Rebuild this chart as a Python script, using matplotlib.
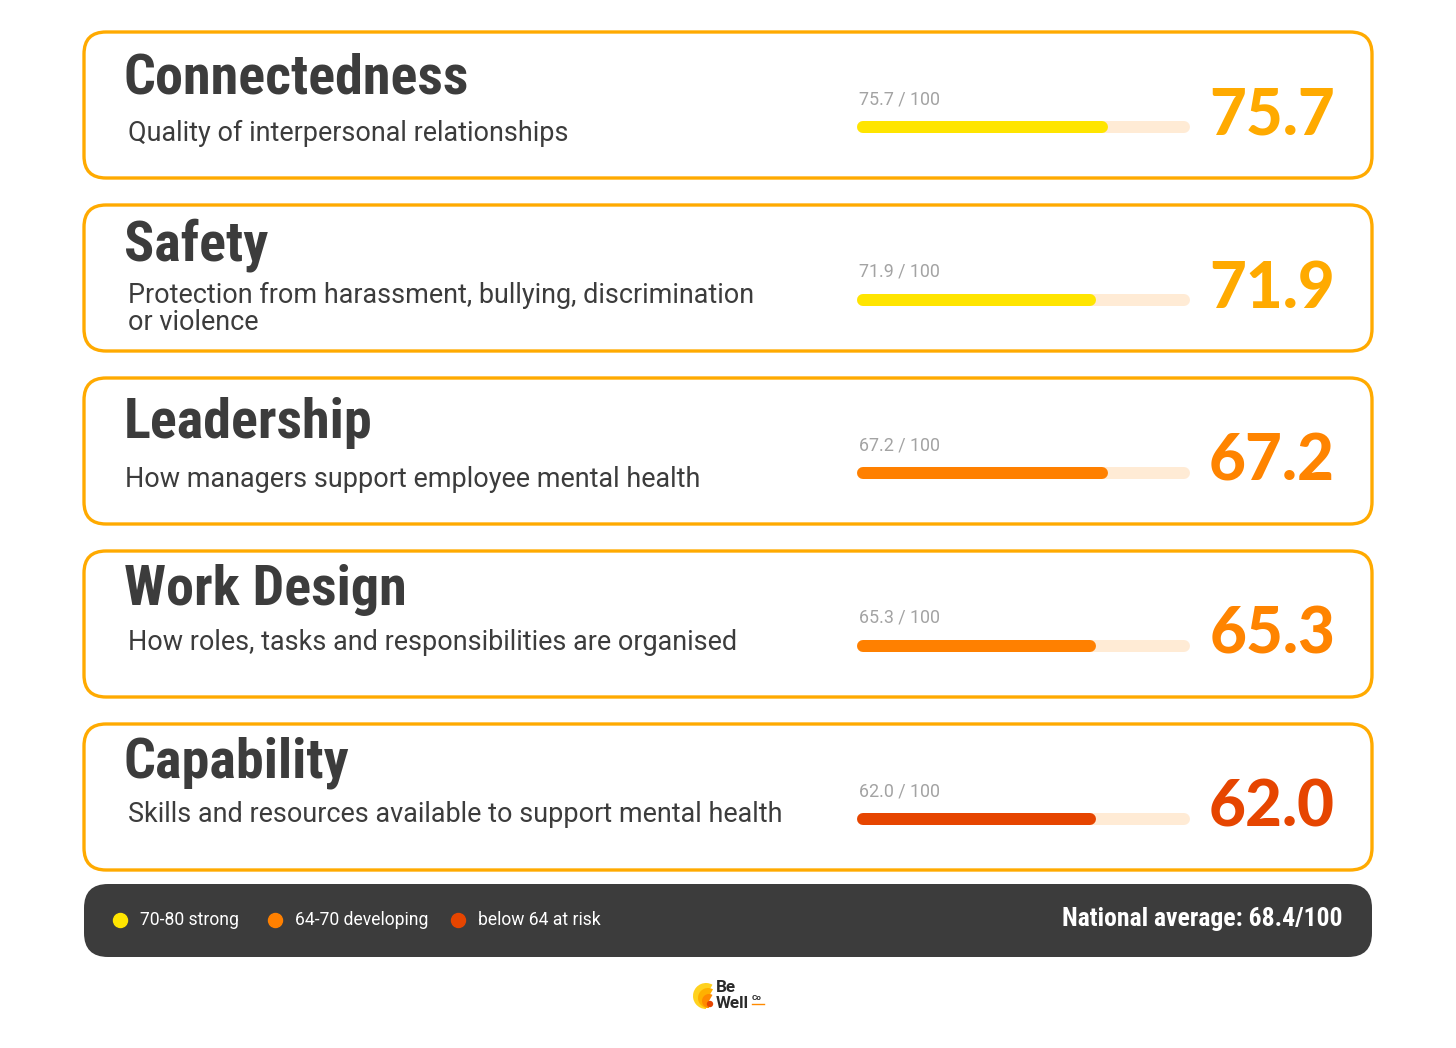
import matplotlib
matplotlib.use("Agg")
import matplotlib.pyplot as plt
from matplotlib import font_manager
from matplotlib.font_manager import FontProperties
from matplotlib.patches import FancyBboxPatch, Circle, Wedge

# data
categories = ["Connectedness", "Safety", "Leadership", "Work Design", "Capability"]
descriptions = [
    "Quality of interpersonal relationships",
    "Protection from harassment, bullying, discrimination\nor violence",
    "How managers support employee mental health",
    "How roles, tasks and responsibilities are organised",
    "Skills and resources available to support mental health",
]
scores = [75.7, 71.9, 67.2, 65.3, 62.0]
# fill length of each bar as drawn in the picture (percent of track)
bar_fill = [75.4, 71.8, 75.4, 71.8, 71.8]
bands = ["strong", "strong", "developing", "developing", "risk"]
legend_labels = ["70-80 strong", "64-70 developing", "below 64 at risk"]
legend_bands = ["strong", "developing", "risk"]
national_avg = 68.4

# colours
bar_col = {"strong": "#FFE500", "developing": "#FF8000", "risk": "#E64500"}
num_col = {"strong": "#FFAA00", "developing": "#FF8400", "risk": "#E64500"}
BORDER = "#FFAA00"
DARK = "#3C3C3C"
TRACK = "#FFEBD5"


def pick_font(keys, fallback_weight="bold"):
    """first installed font file whose name contains one of keys"""
    files = [f.fname for f in font_manager.fontManager.ttflist]
    for k in keys:
        for fn in files:
            if k.lower() in fn.lower().replace(" ", "").replace("_", ""):
                return FontProperties(fname=fn)
    return FontProperties(family="DejaVu Sans", weight=fallback_weight)


heavy_cond = pick_font(["RobotoCondensed-Black", "RobotoCondensed-ExtraBold",
                        "RobotoCondensed-Bold", "OpenSansCondensed-ExtraBold",
                        "OpenSansCondensed-Bold", "LiberationSansNarrow-Bold.",
                        "DejaVuSansCondensed-Bold.", "Lato-Black", "Roboto-Black"])
num_font = pick_font(["RobotoCondensed-Black", "RobotoCondensed-ExtraBold",
                      "Lato-Black", "Roboto-Black", "RobotoCondensed-Bold",
                      "Inter-Black"])
body_font = FontProperties(family=["Roboto", "DejaVu Sans"])
body_bold = FontProperties(family=["Roboto", "DejaVu Sans"], weight="bold")

W, H = 1456, 1048
fig = plt.figure(figsize=(W / 100, H / 100), dpi=100)
ax = fig.add_axes([0, 0, 1, 1])
ax.set_xlim(0, W)
ax.set_ylim(H, 0)
ax.axis("off")
renderer = fig.canvas.get_renderer()


def px(p):
    # pixels -> points
    return p * 0.72


def fit(t, width):
    # scale font so that text t is width pixels wide
    w = t.get_window_extent(renderer).width
    t.set_fontsize(t.get_fontsize() * width / w)
    return t.get_fontsize()


# reference sizes from the first card
probe = ax.text(0, 0, categories[0], fontproperties=heavy_cond, fontsize=px(50))
title_size = fit(probe, 346)
probe.remove()
probe = ax.text(0, 0, descriptions[0], fontproperties=body_font, fontsize=px(26))
sub_size = fit(probe, 439)
probe.remove()
probe = ax.text(0, 0, f"{scores[0]:.1f}", fontproperties=num_font, fontsize=px(70))
num_size = fit(probe, 126)
probe.remove()
probe = ax.text(0, 0, f"{scores[0]:.1f} / 100", fontproperties=body_font, fontsize=px(20))
lab_size = fit(probe, 81)
probe.remove()

card_top0, pitch, card_h = 32, 173, 146
title_off = [46, 40, 45, 39, 39]
sub_off = [109, 98, 109, 99, 98]
sub_x = [128, 128, 125, 128, 128]

for i, name in enumerate(categories):
    top = card_top0 + i * pitch
    ax.add_patch(FancyBboxPatch((84, top), 1288, card_h,
                                boxstyle="round,pad=0,rounding_size=22",
                                fc="white", ec=BORDER, lw=2.4))
    ax.text(124, top + title_off[i], name, fontproperties=heavy_cond,
            fontsize=title_size, color=DARK, va="center", ha="left")
    for j, line in enumerate(descriptions[i].split("\n")):
        ax.text(sub_x[i], top + sub_off[i] + j * 27, line, fontproperties=body_font,
                fontsize=sub_size, color=DARK, va="baseline", ha="left")

    # small score label
    ax.text(859, top + 67, f"{scores[i]:.1f} / 100", fontproperties=body_font,
            fontsize=lab_size, color="#A3A3A3", va="center", ha="left")

    # big score
    ax.text(1335, top + 84, f"{scores[i]:.1f}", fontproperties=num_font,
            fontsize=num_size, color=num_col[bands[i]], va="center", ha="right")

    # progress bar in its own 0-100 axes
    bx = fig.add_axes([857 / W, 1 - (top + 95 + 6) / H, 333 / W, 12 / H])
    bx.set_xlim(0, 100)
    bx.set_ylim(0, 1)
    bx.axis("off")
    r = 6 / 333 * 100
    bx.plot([r, 100 - r], [0.5, 0.5], color=TRACK, lw=px(12),
            solid_capstyle="round")
    bx.plot([r, bar_fill[i] - r], [0.5, 0.5], color=bar_col[bands[i]],
            lw=px(12), solid_capstyle="round")

# legend strip
ax.add_patch(FancyBboxPatch((84, 884), 1288, 73,
                            boxstyle="round,pad=0,rounding_size=24",
                            fc=DARK, ec="none"))
dot_x = [120, 275, 458]
for x, lab, b in zip(dot_x, legend_labels, legend_bands):
    ax.scatter([x], [920], s=px(14) ** 2, color=bar_col[b], zorder=5)
    t = ax.text(x + 20, 920, lab, fontproperties=body_font, fontsize=px(18),
                color="white", va="center", ha="left")
    if x == dot_x[0]:
        leg_size = fit(t, 99)
    else:
        t.set_fontsize(leg_size)
t = ax.text(1342, 919, f"National average: {national_avg}/100",
            fontproperties=heavy_cond, fontsize=px(22), color="white",
            va="center", ha="right")
fit(t, 281)

# little logo
ax.add_patch(Wedge((706, 996), 13, 90, 300, fc="#FFD21F", ec="none"))
ax.add_patch(Wedge((708, 998), 10, 90, 300, fc="#FFB000", ec="none"))
ax.add_patch(Wedge((709, 1001), 7, 90, 300, fc="#FF8A00", ec="none"))
ax.add_patch(Circle((710, 1004), 3.2, fc="#E64500", ec="none"))
ax.text(716, 988, "Be", fontproperties=body_bold, fontsize=px(17),
        color="#2A2A2A", va="center", ha="left")
ax.text(716, 1003, "Well", fontproperties=body_bold, fontsize=px(17),
        color="#2A2A2A", va="center", ha="left")
ax.text(752, 997, "Co", fontproperties=body_bold, fontsize=px(8),
        color="#2A2A2A", va="center", ha="left")
ax.plot([752, 764], [1004, 1004], color="#FF8A00", lw=1)

fig.savefig("out.png", dpi=100)
